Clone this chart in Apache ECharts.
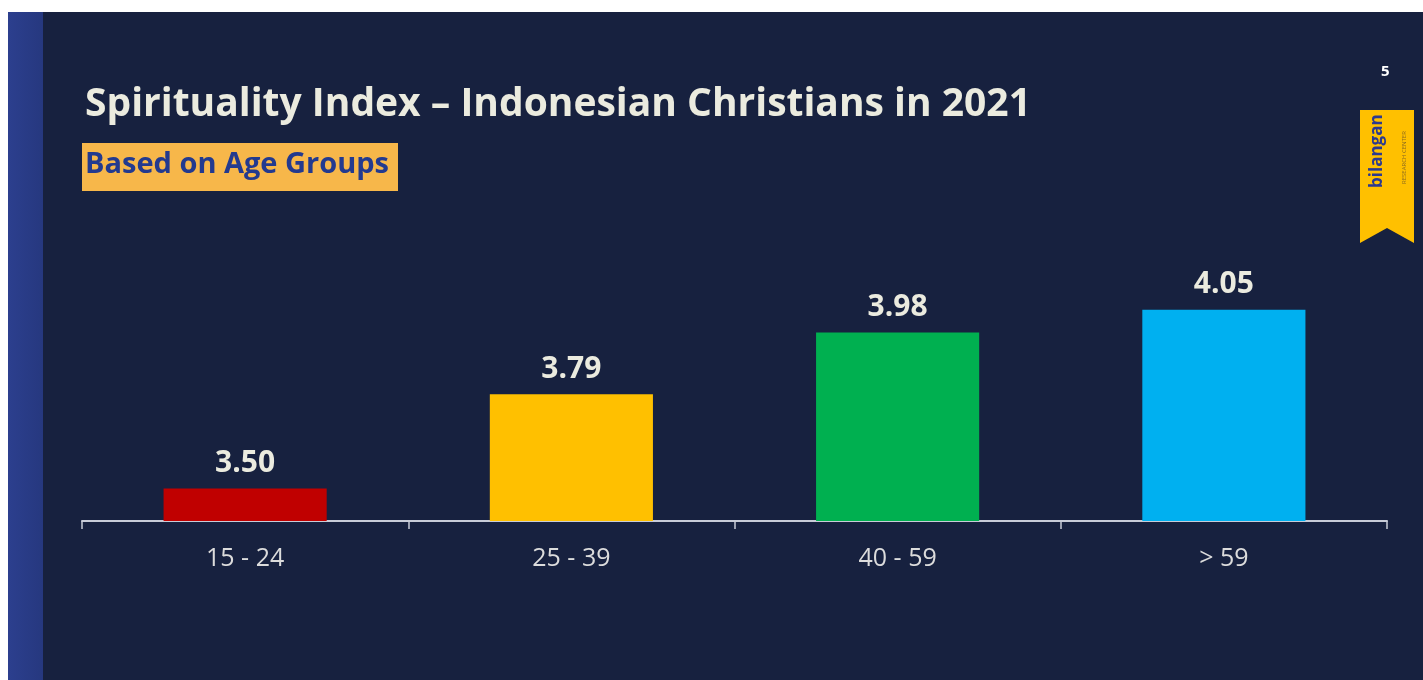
<!DOCTYPE html>
<html>
<head>
<meta charset="utf-8">
<script src="https://cdn.jsdelivr.net/npm/echarts@6/dist/echarts.min.js"></script>
<style>
html,body{margin:0;padding:0;background:#ffffff;}
#bg{position:absolute;left:0;top:0;width:1423px;height:680px;background:#ffffff;}
#navy{position:absolute;left:8px;top:12px;width:1415px;height:668px;background:#17213f;}
#strip{position:absolute;left:8px;top:12px;width:35px;height:668px;background:linear-gradient(90deg,#2c3f8e,#26387f);}
#chart{position:absolute;left:0;top:0;width:1423px;height:680px;}
</style>
</head>
<body>
<div id="bg"></div><div id="navy"></div><div id="strip"></div>
<div id="chart"></div>
<script>
const titleText = 'Spirituality Index \u2013 Indonesian Christians in 2021';
const subtitleText = 'Based on Age Groups';
const categories = ['15 - 24', '25 - 39', '40 - 59', '> 59'];
const values = [3.50, 3.79, 3.98, 4.05];
const barColors = ['#c00000', '#ffc000', '#00b050', '#00b0f0'];

const chart = echarts.init(document.getElementById('chart'), null, {renderer: 'canvas'});
chart.setOption({
  backgroundColor: 'transparent',
  animation: false,
  title: {
    text: titleText,
    left: 80, top: 80,
    textStyle: {color: '#ebebdf', fontFamily: 'Open Sans', fontWeight: 'bold', fontSize: 39}
  },
  grid: {left: 82, right: 36, top: 196, bottom: 159, containLabel: false},
  xAxis: {
    type: 'category',
    data: categories,
    axisLine: {lineStyle: {color: '#c8ccd8', width: 2}},
    axisTick: {show: true, length: 8, lineStyle: {color: '#c8ccd8', width: 1.5}},
    axisLabel: {color: '#dcdcdc', fontFamily: 'Open Sans', fontSize: 25, margin: 25}
  },
  yAxis: {
    type: 'value', min: 3.4, max: 4.4, show: false,
    splitLine: {show: false}
  },
  series: [{
    type: 'bar',
    data: values.map((v, i) => ({value: v, itemStyle: {color: barColors[i]}})),
    barWidth: '50%',
    label: {
      show: true, position: 'top', distance: 10,
      color: '#ebebdf', fontFamily: 'Open Sans', fontWeight: 'bold', fontSize: 30,
      formatter: p => p.value.toFixed(2)
    }
  }],
  graphic: [
    {type: 'rect', shape: {x: 82, y: 143, width: 316, height: 48}, style: {fill: '#f7b74a'}},
    {type: 'text', left: 85, top: 150, style: {text: subtitleText, fill: '#233a8f', font: 'bold 29px "Open Sans"'}},
    {type: 'text', left: 1381, top: 64, style: {text: '5', fill: '#ffffff', font: 'bold 15px "Open Sans"'}},
    {type: 'polygon', shape: {points: [[1360,110],[1414,110],[1414,243],[1387,228],[1360,243]]}, style: {fill: '#ffc000'}},
    {type: 'text', x: 1377, y: 188, rotation: Math.PI/2, style: {text: 'bilangan', fill: '#2b3990', font: 'bold 17px "Open Sans"', verticalAlign: 'middle'}},
    {type: 'text', x: 1404, y: 184, rotation: Math.PI/2, style: {text: 'RESEARCH CENTER', fill: '#8a6a20', font: '6px "Open Sans"', verticalAlign: 'middle'}}
  ]
});
</script>
</body>
</html>
